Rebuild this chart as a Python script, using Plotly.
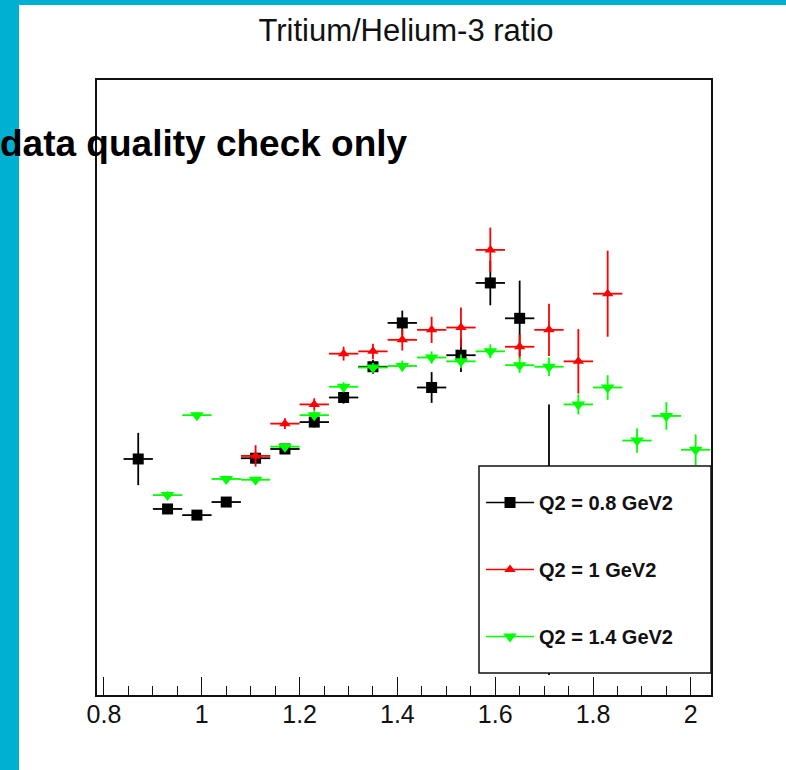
import plotly.graph_objects as go

# Bin centres (W, GeV) and Tritium/Helium-3 yield ratios per Q2 setting
x_q08 = [0.87, 0.93, 0.99, 1.05, 1.11, 1.17, 1.23, 1.29, 1.35, 1.41, 1.47, 1.53, 1.59, 1.65, 1.71]
y_q08 = [0.907, 0.842, 0.834, 0.851, 0.908, 0.920, 0.955, 0.987, 1.027, 1.084, 1.000, 1.042, 1.136, 1.090, 0.802]
e_q08 = [0.034, 0.005, 0.004, 0.005, 0.007, 0.005, 0.007, 0.008, 0.009, 0.016, 0.020, 0.022, 0.029, 0.049, 0.176]

x_q10 = [1.11, 1.17, 1.23, 1.29, 1.35, 1.41, 1.47, 1.53, 1.59, 1.65, 1.71, 1.77, 1.83]
y_q10 = [0.911, 0.953, 0.978, 1.044, 1.047, 1.062, 1.075, 1.078, 1.179, 1.053, 1.075, 1.034, 1.122]
e_q10 = [0.014, 0.007, 0.008, 0.009, 0.010, 0.014, 0.017, 0.026, 0.029, 0.016, 0.034, 0.042, 0.056]

x_q14 = [0.93, 0.99, 1.05, 1.11, 1.17, 1.23, 1.29, 1.35, 1.41, 1.47, 1.53, 1.59, 1.65, 1.71, 1.77,
         1.83, 1.89, 1.95, 2.01]
y_q14 = [0.860, 0.964, 0.881, 0.880, 0.923, 0.964, 1.001, 1.026, 1.028, 1.039, 1.034, 1.047, 1.029,
         1.027, 0.978, 1.000, 0.931, 0.963, 0.919]
e_q14 = [0.005, 0.004, 0.004, 0.004, 0.005, 0.006, 0.006, 0.006, 0.007, 0.008, 0.009, 0.009, 0.010,
         0.012, 0.013, 0.016, 0.016, 0.018, 0.020]

bin_half_width = 0.03
x_ticks = [0.8, 1.0, 1.2, 1.4, 1.6, 1.8, 2.0]
x_tick_text = ["0.8", "1", "1.2", "1.4", "1.6", "1.8", "2"]

series = [
    ("Q2 = 0.8 GeV2", x_q08, y_q08, e_q08, "#000000", "square", 11),
    ("Q2 = 1 GeV2", x_q10, y_q10, e_q10, "#ff0000", "triangle-up", 10),
    ("Q2 = 1.4 GeV2", x_q14, y_q14, e_q14, "#00ff00", "triangle-down", 12),
]

W, H = 786, 770
ML, MR, MT, MB = 97, 75, 80, 75
PW, PH = W - ML - MR, H - MT - MB


def fx(px):
    return (px - ML) / PW


def fy(py):
    return (H - MB - py) / PH


FONT = "Liberation Sans, Arial, Helvetica, sans-serif"

fig = go.Figure()

for name, xs, ys, es, col, sym, size in series:
    fig.add_trace(go.Scatter(
        x=xs, y=ys, mode="markers", name=name, showlegend=False,
        marker=dict(symbol=sym, size=size, color=col, line=dict(width=0)),
        error_y=dict(type="data", array=es, color=col, thickness=1.8, width=0),
        error_x=dict(type="constant", value=bin_half_width, color=col, thickness=1.8, width=0),
    ))

# legend entries (line + marker, like the "lep" style)
for name, xs, ys, es, col, sym, size in series:
    fig.add_trace(go.Scatter(
        x=[None], y=[None], mode="lines+markers", name=name, legendgroup=name,
        line=dict(color=col, width=1.5),
        marker=dict(symbol=sym, size=size, color=col, line=dict(width=0)),
    ))

cyan = "#00b0d3"
shapes = [
    # canvas border
    dict(type="rect", xref="paper", yref="paper", x0=fx(0), x1=fx(19), y0=fy(H), y1=fy(0),
         fillcolor=cyan, line=dict(width=0), layer="above"),
    dict(type="rect", xref="paper", yref="paper", x0=fx(0), x1=fx(W), y0=fy(5), y1=fy(0),
         fillcolor=cyan, line=dict(width=0), layer="above"),
    # legend box
    dict(type="rect", xref="paper", yref="paper", x0=fx(479), x1=fx(711), y0=fy(673), y1=fy(466),
         fillcolor="white", line=dict(color="#111111", width=1.5), layer="above"),
]

fig.update_layout(
    width=W, height=H,
    margin=dict(l=ML, r=MR, t=MT, b=MB, pad=0),
    paper_bgcolor="white", plot_bgcolor="white",
    font=dict(family=FONT, color="black"),
    title=dict(text="Tritium/Helium-3 ratio", x=406 / W, xanchor="center",
               y=1 - 30 / H, yanchor="middle", yref="container",
               font=dict(family=FONT, size=31, color="#111111")),
    xaxis=dict(range=[0.7857, 2.0413], showgrid=False, zeroline=False,
               showline=True, linecolor="#111111", linewidth=1.5, mirror=True,
               tickmode="array", tickvals=x_ticks, ticktext=x_tick_text,
               ticks="inside", ticklen=18, tickwidth=1.2, tickcolor="#111111",
               minor=dict(ticks="inside", ticklen=9, dtick=0.05, tick0=0.8,
                          tickwidth=1.2, tickcolor="#111111", showgrid=False),
               ticklabelstandoff=-4,
               tickfont=dict(family=FONT, size=25, color="#111111")),
    yaxis=dict(range=[0.6, 1.4], showgrid=False, zeroline=False,
               showline=True, linecolor="#111111", linewidth=1.5, mirror=True,
               showticklabels=False, ticks=""),
    showlegend=True,
    legend=dict(x=fx(481), y=fy(483), xanchor="left", yanchor="top",
                bgcolor="rgba(0,0,0,0)", borderwidth=0,
                traceorder="grouped", tracegroupgap=38, itemwidth=48,
                font=dict(family=FONT, size=20, color="#111111", weight="bold")),
    shapes=shapes,
    annotations=[dict(text="data quality check only", xref="paper", yref="paper",
                      x=fx(-2), y=fy(143), xanchor="left", yanchor="middle",
                      showarrow=False,
                      font=dict(family=FONT, size=37, color="black", weight="bold"))],
)

fig.write_html("out.html")
